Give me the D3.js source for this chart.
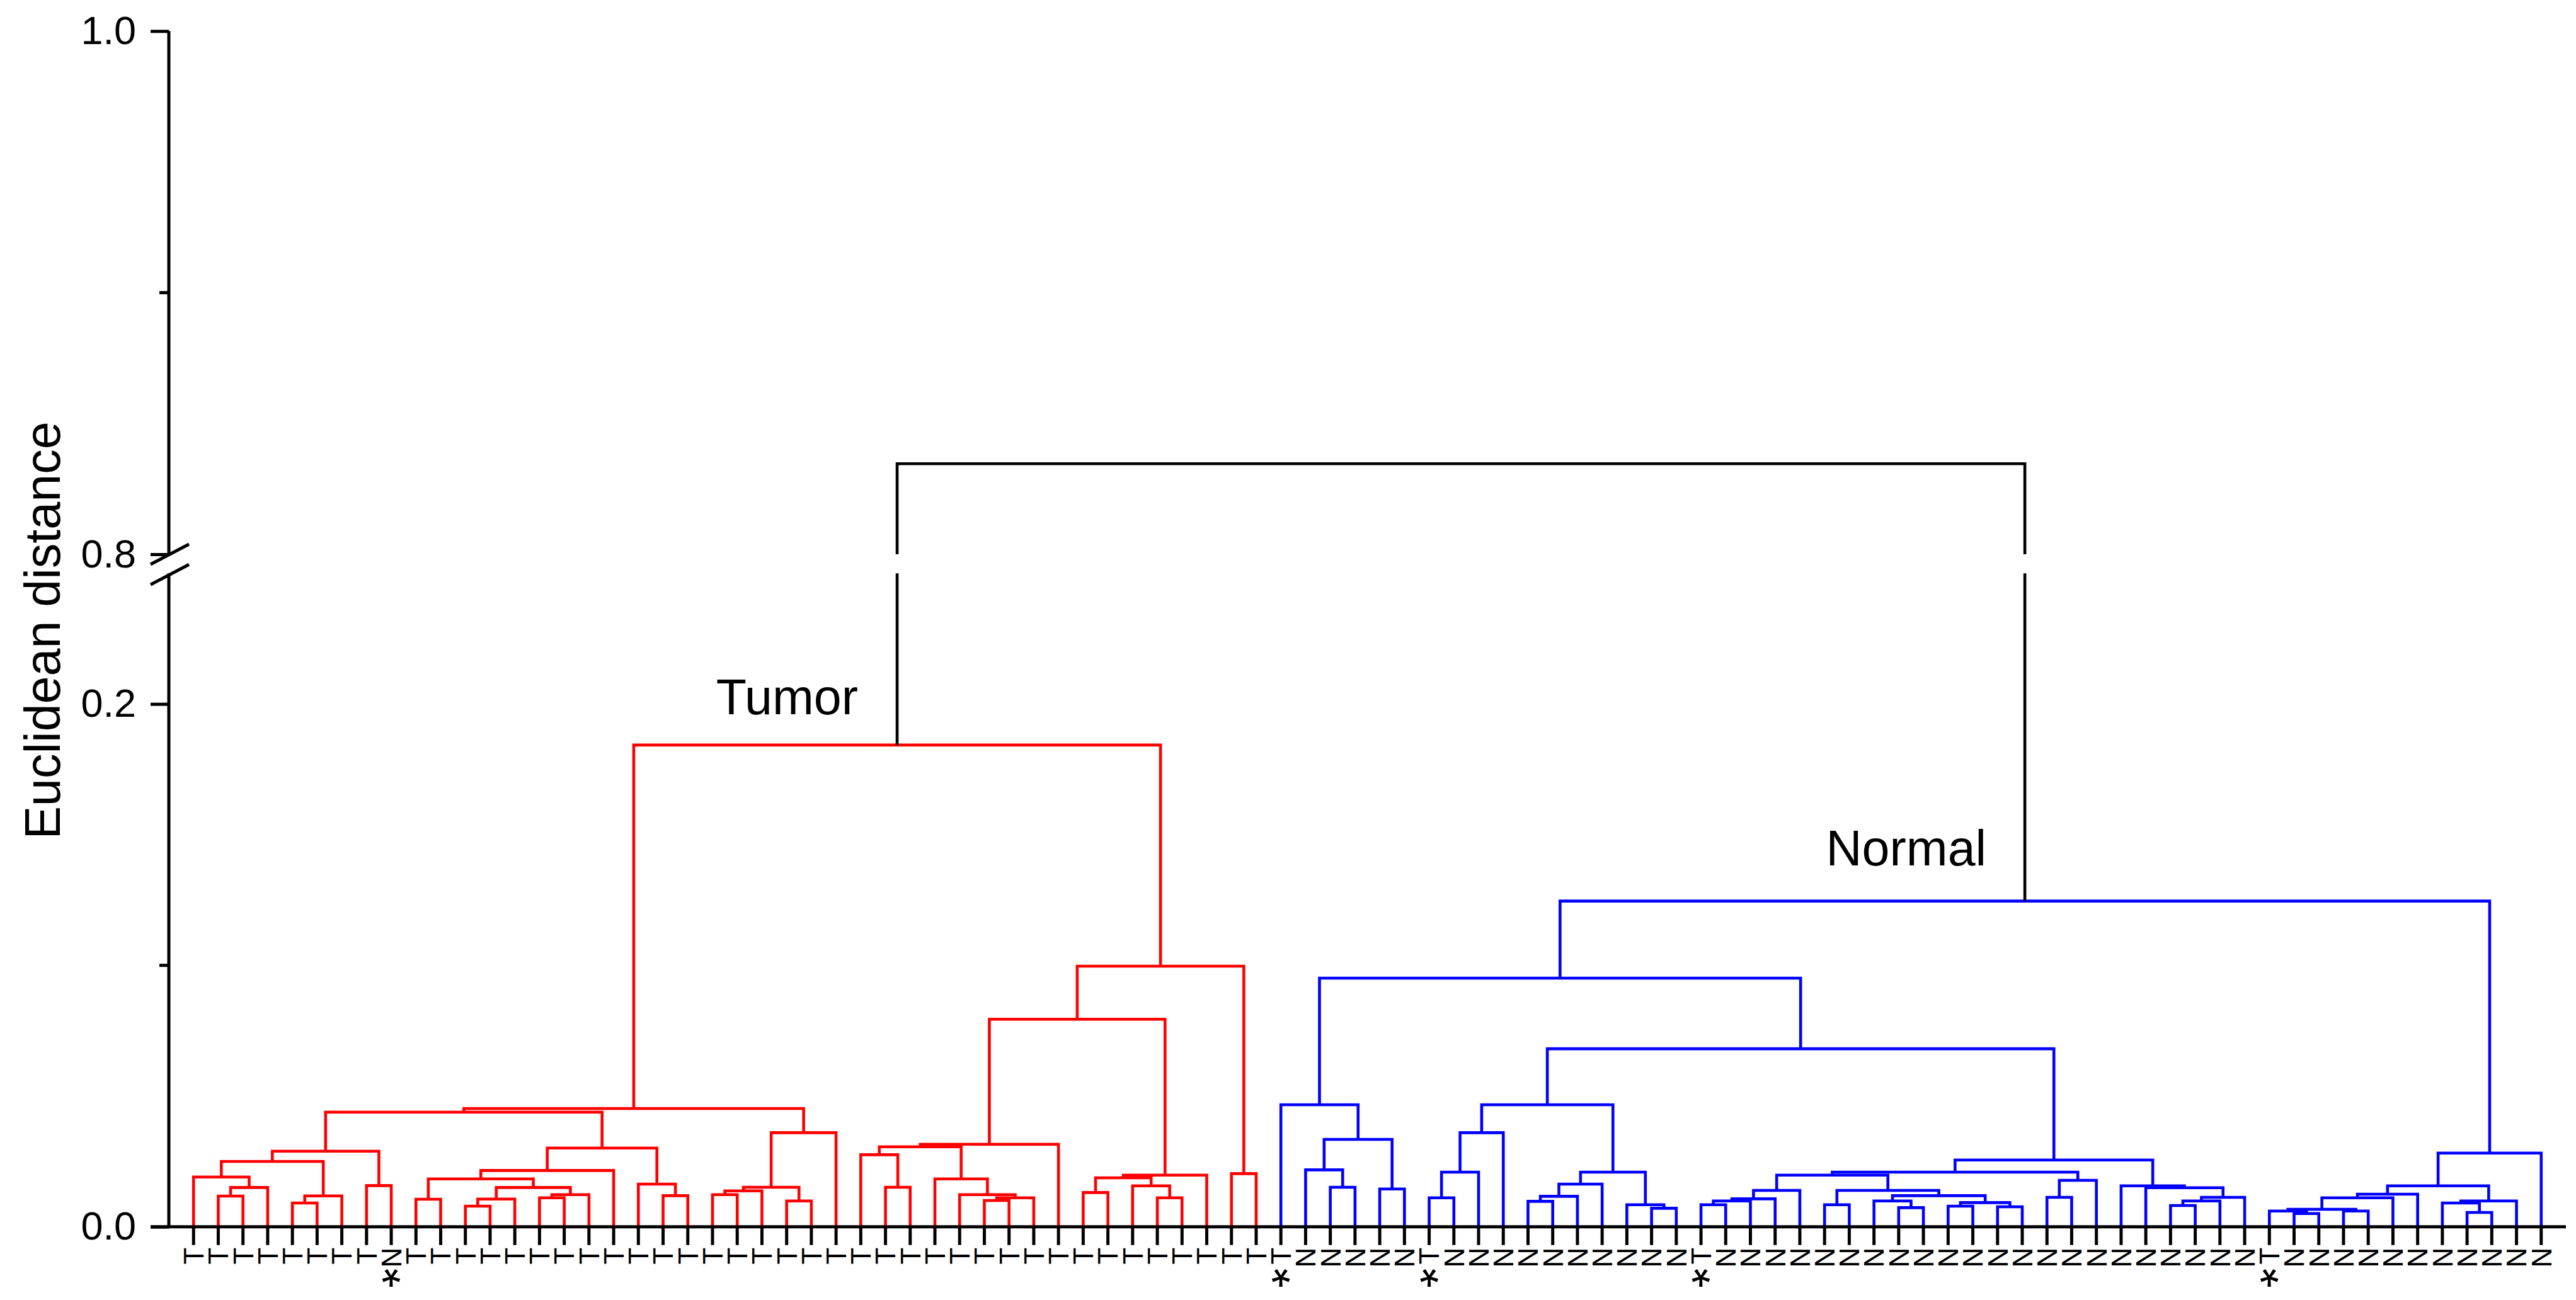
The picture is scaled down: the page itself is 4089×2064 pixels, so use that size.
<!DOCTYPE html>
<html>
<head>
<meta charset="utf-8">
<script src="https://cdn.jsdelivr.net/npm/d3@7"></script>
<style>
html, body { margin: 0; padding: 0; background: #ffffff; }
svg { display: block; }
</style>
</head>
<body>
<svg id="chart" width="4089" height="2064"></svg>
<script>
// ---------------- DATA ----------------
// leaf order (left to right) and their true class
const leafLabels = ("TTTTTTTTN" +
  "TTTTTT" + "TTTTTT" + "TTTTTT" + "TTTTTT" + "TTTTTT" + "TTTTTT" +
  "NNNNN" + "T" + "NNNNNNNNNN" + "T" +
  "NNNNNNNNNNNNNNNNNNNNNN" + "T" + "NNNNNNNNNNN").split("");

// misclassified samples marked with an asterisk (1-based leaf numbers)
const markedLeaves = [9, 45, 51, 62, 85];

// linkage: [a, b, height]; positive = leaf number, negative = earlier merge (-k = k-th merge)
const merges = [
  [2, 3, 0.01173],      // 1
  [-1, 4, 0.01502],     // 2
  [1, -2, 0.01904],     // 3
  [5, 6, 0.00908],      // 4
  [-4, 7, 0.01181],     // 5
  [-3, -5, 0.02498],    // 6
  [8, 9, 0.01574],      // 7
  [-6, -7, 0.02892],    // 8
  [10, 11, 0.01052],    // 9
  [12, 13, 0.00787],    // 10
  [-10, 14, 0.01060],   // 11
  [15, 16, 0.01108],    // 12
  [-12, 17, 0.01229],   // 13
  [-11, -13, 0.01502],  // 14
  [-9, -14, 0.01831],   // 15
  [-15, 18, 0.02153],   // 16
  [20, 21, 0.01189],    // 17
  [19, -17, 0.01631],   // 18
  [-16, -18, 0.03012],  // 19
  [-8, -19, 0.04386],   // 20
  [22, 23, 0.01229],    // 21
  [-21, 24, 0.01373],   // 22
  [25, 26, 0.00988],    // 23
  [-22, -23, 0.01510],  // 24
  [-24, 27, 0.03598],   // 25
  [-20, -25, 0.04522],  // 26
  [29, 30, 0.01510],    // 27
  [28, -27, 0.02755],   // 28
  [33, 34, 0.01004],    // 29
  [-29, 35, 0.01108],   // 30
  [32, -30, 0.01229],   // 31
  [31, -31, 0.01831],   // 32
  [-28, -32, 0.03060],  // 33
  [-33, 36, 0.03157],   // 34
  [37, 38, 0.01309],    // 35
  [40, 41, 0.01108],    // 36
  [39, -36, 0.01566],   // 37
  [-35, -37, 0.01871],  // 38
  [-38, 42, 0.01976],   // 39
  [-34, -39, 0.0794],   // 40
  [43, 44, 0.02032],    // 41
  [-40, -41, 0.0997],   // 42
  [-26, -42, 0.1843],   // 43  Tumor
  [47, 48, 0.01510],    // 44
  [46, -44, 0.02177],   // 45
  [49, 50, 0.01446],    // 46
  [-45, -46, 0.03341],  // 47
  [45, -47, 0.04667],   // 48
  [51, 52, 0.01108],    // 49
  [-49, 53, 0.02088],   // 50
  [-50, 54, 0.03598],   // 51
  [55, 56, 0.00972],    // 52
  [-52, 57, 0.01165],   // 53
  [-53, 58, 0.01631],   // 54
  [60, 61, 0.00707],    // 55
  [59, -55, 0.00843],   // 56
  [-54, -56, 0.02088],  // 57
  [-51, -57, 0.04667],  // 58
  [62, 63, 0.00843],    // 59
  [-59, 64, 0.00988],   // 60
  [-60, 65, 0.01068],   // 61
  [-61, 66, 0.01390],   // 62
  [67, 68, 0.00843],    // 63
  [70, 71, 0.00731],    // 64
  [69, -64, 0.00988],   // 65
  [72, 73, 0.00787],    // 66
  [74, 75, 0.00763],    // 67
  [-66, -67, 0.00924],  // 68
  [-65, -68, 0.01189],  // 69
  [-63, -69, 0.01390],  // 70
  [-62, -70, 0.01976],  // 71
  [76, 77, 0.01124],    // 72
  [-72, 78, 0.01775],   // 73
  [-71, -73, 0.02088],  // 74
  [81, 82, 0.00811],    // 75
  [-75, 83, 0.00988],   // 76
  [-76, 84, 0.01124],   // 77
  [80, -77, 0.01494],   // 78
  [79, -78, 0.01566],   // 79
  [-74, -79, 0.02554],  // 80
  [-58, -80, 0.0681],   // 81
  [-48, -81, 0.0951],   // 82
  [86, 87, 0.00506],    // 83
  [85, -83, 0.00602],   // 84
  [88, 89, 0.00602],    // 85
  [-84, -85, 0.00667],  // 86
  [-86, 90, 0.01108],   // 87
  [-87, 91, 0.01245],   // 88
  [93, 94, 0.00546],    // 89
  [92, -89, 0.00908],   // 90
  [-90, 95, 0.00988],   // 91
  [-88, -91, 0.01566],  // 92
  [-92, 96, 0.02819],   // 93
  [-82, -93, 0.1246],   // 94  Normal
  [-43, -94, 0.8346]    // 95  root
];

const clusterNames = ["Tumor", "Normal"];
const clusterMergeIds = [43, 94];
const clusterColors = ["#ff0000", "#0000ff"];

const lowDomain = [0, 0.25];
const highDomain = [0.8, 1.0];
const lowTicks = [0.0, 0.2];
const lowMinorTicks = [0.1];
const highTicks = [0.8, 1.0];
const highMinorTicks = [0.9];
const yTitle = "Euclidean distance";

// ---------------- LAYOUT ----------------
const W = 4089, H = 2064;
const FONT = "'Liberation Sans', Arial, Helvetica, sans-serif";
const axisX = 268;
const svg = d3.select("#chart");
svg.append("rect").attr("width", W).attr("height", H).attr("fill", "#ffffff");

const n = leafLabels.length;
const x = d3.scaleLinear().domain([0, n + 1]).range([axisX, 4073]);
const yLow = d3.scaleLinear().domain(lowDomain).range([1947.7, 910.2]);
const yHigh = d3.scaleLinear().domain(highDomain).range([880, 49.3]);
const y = v => (v <= lowDomain[1] ? yLow(v) : yHigh(v));

// build tree nodes
const leaves = leafLabels.map((lab, i) => ({ leaf: true, num: i + 1, label: lab, h: 0, x: x(i + 1) }));
const mergeNodes = [];
const ref = r => (r > 0 ? leaves[r - 1] : mergeNodes[-r - 1]);
merges.forEach((m, k) => {
  const l = ref(m[0]), r = ref(m[1]);
  mergeNodes.push({ leaf: false, id: k + 1, l, r, h: m[2], x: (l.x + r.x) / 2 });
});
const root = mergeNodes[mergeNodes.length - 1];

function paint(node, color) {
  node.color = color;
  [node.l, node.r].forEach(c => {
    if (c.leaf) return;
    const ci = clusterMergeIds.indexOf(c.id);
    paint(c, ci >= 0 ? clusterColors[ci] : color);
  });
}
paint(root, "#000000");

// ---------------- DENDROGRAM ----------------
const gTree = svg.append("g").attr("fill", "none").attr("stroke-width", 4.6)
  .attr("stroke-linejoin", "miter");

mergeNodes.forEach(m => {
  const crossesBreak = c => c.h <= lowDomain[1] && m.h >= highDomain[0];
  let d;
  if (crossesBreak(m.l) || crossesBreak(m.r)) {
    d = `M${m.l.x},${yHigh(highDomain[0])}V${y(m.h)}H${m.r.x}V${yHigh(highDomain[0])}` +
        `M${m.l.x},${y(m.l.h)}V${yLow(lowDomain[1])}` +
        `M${m.r.x},${y(m.r.h)}V${yLow(lowDomain[1])}`;
  } else {
    d = `M${m.l.x},${y(m.l.h)}V${y(m.h)}H${m.r.x}V${y(m.r.h)}`;
  }
  gTree.append("path").attr("d", d).attr("stroke", m.color)
    .attr("stroke-linecap", "butt");
});

// ---------------- AXES ----------------
const gAxis = svg.append("g").attr("stroke", "#000").attr("stroke-width", 5).attr("fill", "none");
// y axis segments
gAxis.append("path").attr("d", `M${axisX},${yHigh(highDomain[1])}V${yHigh(highDomain[0])}`);
gAxis.append("path").attr("d", `M${axisX},${yLow(lowDomain[1])}V${yLow(lowDomain[0])}`);
// baseline (x axis)
gAxis.append("path").attr("d", `M${axisX - 29},${yLow(0)}H${x(n + 1)}`);

// major ticks with labels
function styleAxis(g) {
  g.select(".domain").remove();
  g.selectAll(".tick line").attr("stroke", "#000").attr("stroke-width", 5);
  g.selectAll(".tick text").attr("fill", "#000").attr("font-size", 63).attr("font-family", FONT);
}
svg.append("g").attr("transform", `translate(${axisX},0)`)
  .call(d3.axisLeft(yLow).tickValues(lowTicks).tickSize(29).tickPadding(23).tickFormat(d3.format(".1f")))
  .call(styleAxis);
svg.append("g").attr("transform", `translate(${axisX},0)`)
  .call(d3.axisLeft(yHigh).tickValues(highTicks).tickSize(29).tickPadding(23).tickFormat(d3.format(".1f")))
  .call(styleAxis);
// minor ticks
lowMinorTicks.forEach(v => gAxis.append("path").attr("d", `M${axisX - 15},${yLow(v)}H${axisX}`));
highMinorTicks.forEach(v => gAxis.append("path").attr("d", `M${axisX - 15},${yHigh(v)}H${axisX}`));

// axis break marks
[yHigh(highDomain[0]), yLow(lowDomain[1]) + 2].forEach(cy => {
  gAxis.append("path").attr("d", `M${axisX - 29},${cy + 16}L${axisX + 32},${cy - 16}`);
});

// leaf ticks
const gLeaf = svg.append("g");
leaves.forEach(lf => {
  gLeaf.append("line").attr("x1", lf.x).attr("x2", lf.x)
    .attr("y1", yLow(0)).attr("y2", yLow(0) + 29)
    .attr("stroke", "#000").attr("stroke-width", 5);
  gLeaf.append("text")
    .attr("transform", `translate(${lf.x},${yLow(0) + 33}) rotate(-90)`)
    .attr("text-anchor", "end").attr("dy", "0.36em")
    .attr("font-family", FONT).attr("font-size", 44).attr("fill", "#000")
    .text(lf.label);
});
// asterisks: drawn turned 180deg so the glyph (which sits high in its em box)
// lands at its spot while its text box stays inside the picture
markedLeaves.forEach(num => {
  gLeaf.append("text")
    .attr("transform", `translate(${x(num)},1988) rotate(180)`)
    .attr("text-anchor", "middle").attr("font-family", FONT)
    .attr("font-size", 80).attr("fill", "#000").text("*");
});

// cluster labels
const tumorNode = mergeNodes[clusterMergeIds[0] - 1];
const normalNode = mergeNodes[clusterMergeIds[1] - 1];
svg.append("text").attr("x", tumorNode.x - 62).attr("y", y(tumorNode.h) - 49)
  .attr("text-anchor", "end").attr("font-family", FONT).attr("font-size", 79)
  .attr("fill", "#000").text(clusterNames[0]);
svg.append("text").attr("x", normalNode.x - 61).attr("y", y(normalNode.h) - 57)
  .attr("text-anchor", "end").attr("font-family", FONT).attr("font-size", 79)
  .attr("fill", "#000").text(clusterNames[1]);

// y axis title
svg.append("text").attr("transform", "translate(95,1001) rotate(-90)")
  .attr("text-anchor", "middle").attr("font-family", FONT).attr("font-size", 79)
  .attr("fill", "#000").text(yTitle);
</script>
</body>
</html>
